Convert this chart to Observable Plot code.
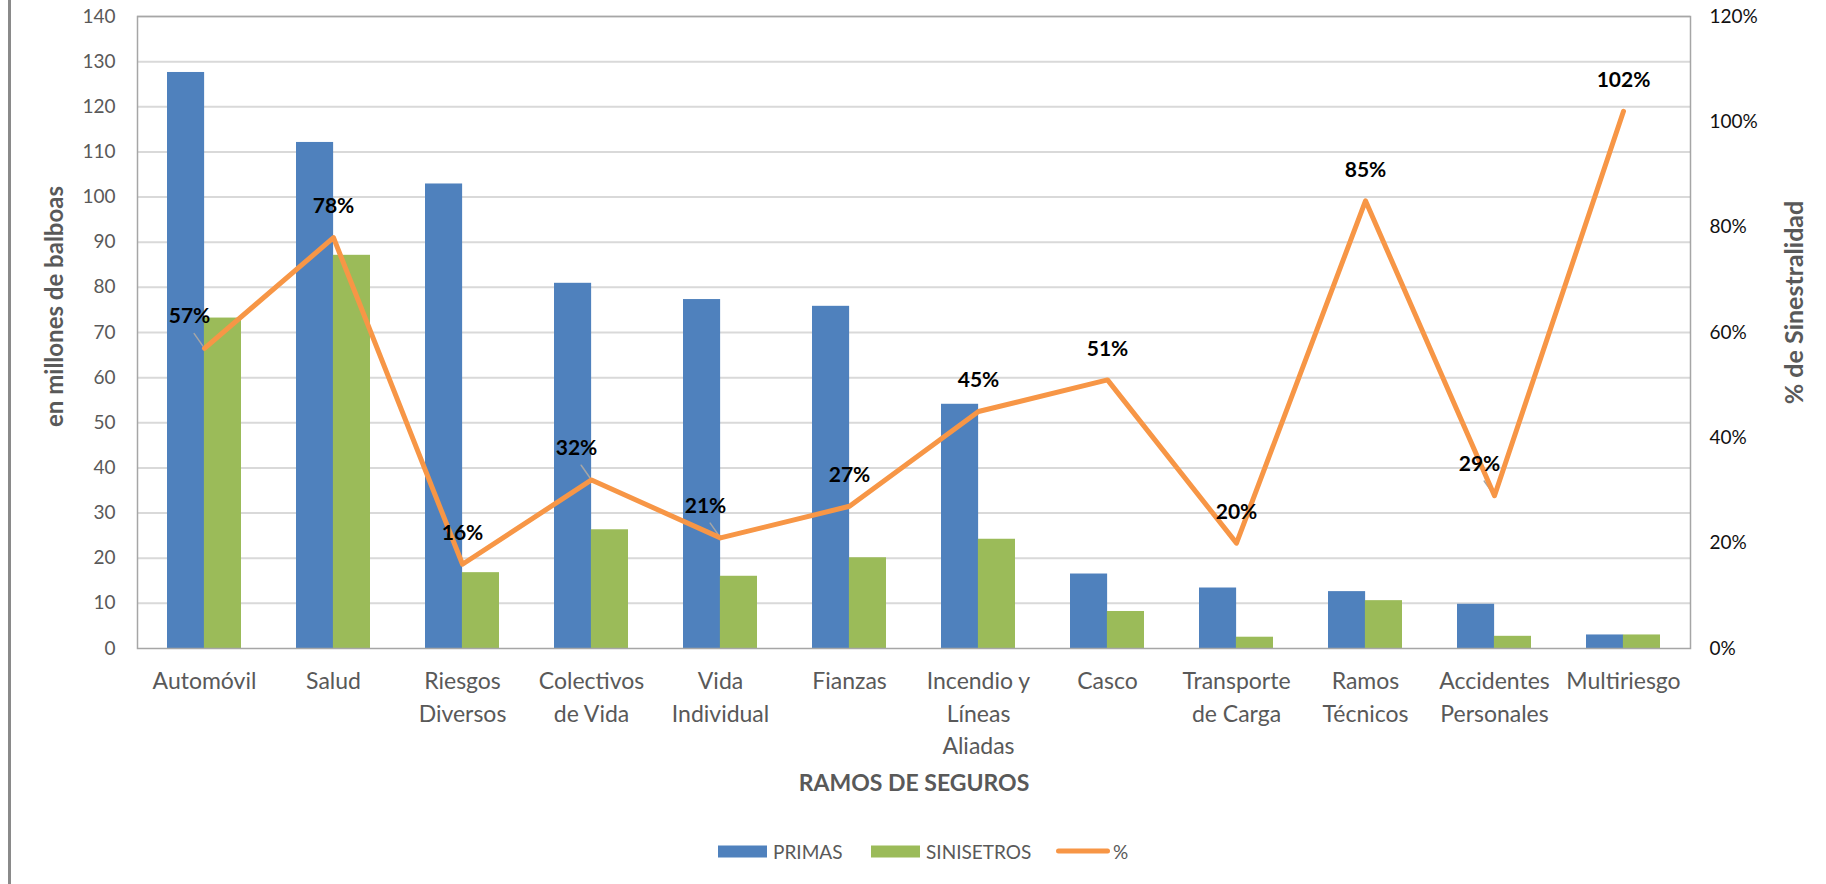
<!DOCTYPE html>
<html>
<head>
<meta charset="utf-8">
<script src="https://cdn.jsdelivr.net/npm/d3@7"></script>
<script src="https://cdn.jsdelivr.net/npm/@observablehq/plot@0.6"></script>
<style>
  html, body { margin: 0; padding: 0; background: #fff; }
  #wrap { position: relative; width: 1826px; height: 884px; overflow: hidden; font-family: Lato, "Open Sans", sans-serif; }
  #edge { position: absolute; left: 8px; top: 0; width: 3px; height: 884px; background: #8a8a8a; }
  #legend { position: absolute; left: 0; top: 810px; width: 1826px; height: 74px; }
  .lg { position: absolute; top: 41px; transform: translateY(-50%); display: flex; align-items: center; font-size: 19px; color: #595959; }
  .sw { display: inline-block; width: 49px; height: 12px; margin-right: 6px; }
  .ln { display: inline-block; width: 54px; height: 5px; border-radius: 3px; margin-right: 3px; }
</style>
</head>
<body>
<div id="wrap">
  <div id="chart"></div>
  <div id="edge"></div>
  <div id="legend"></div>
</div>
<script>
// ---- data ----
const categories = ["Automóvil", "Salud", "Riesgos Diversos", "Colectivos de Vida", "Vida Individual", "Fianzas",
  "Incendio y Líneas Aliadas", "Casco", "Transporte de Carga", "Ramos Técnicos", "Accidentes Personales", "Multiriesgo"];
const categoryLabels = ["Automóvil", "Salud", "Riesgos\nDiversos", "Colectivos\nde Vida", "Vida\nIndividual", "Fianzas",
  "Incendio y\nLíneas\nAliadas", "Casco", "Transporte\nde Carga", "Ramos\nTécnicos", "Accidentes\nPersonales", "Multiriesgo"];
const primas = [127.6, 112.1, 102.9, 80.9, 77.3, 75.8, 54.1, 16.5, 13.4, 12.6, 9.8, 3.0];
const siniestros = [73.2, 87.1, 16.8, 26.3, 16.0, 20.1, 24.2, 8.2, 2.5, 10.6, 2.7, 3.0];
const siniestralidad = [57, 78, 16, 32, 21, 27, 45, 51, 20, 85, 29, 102];
const leftTicks = [0, 10, 20, 30, 40, 50, 60, 70, 80, 90, 100, 110, 120, 130, 140];
const rightTicks = [0, 20, 40, 60, 80, 100, 120];
const seriesNames = ["PRIMAS", "SINISETROS", "%"];
const leaderLabels = ["Automóvil", "Colectivos de Vida", "Vida Individual", "Accidentes Personales"];

// ---- layout / style ----
const W = 1826, H = 810;
const mL = 137, mR = 136, mT = 16, mB = H - 648;
const padInner = 0.43;
const step = (W - mL - mR) / categories.length;
const half = step * (1 - padInner) / 2;
const yMax = 140, pMax = 120, k = yMax / pMax;
const colors = {PRIMAS: "#4F81BD", SINISETROS: "#9BBB59", pct: "#F79646"};
const labelOf = new Map(categories.map((c, i) => [c, categoryLabels[i]]));

const rows = categories.map((c, i) => ({cat: c, primas: primas[i], sin: siniestros[i], pct: siniestralidad[i]}));
const leaderRows = rows.filter(d => leaderLabels.includes(d.cat));
const plainRows = rows.filter(d => !leaderLabels.includes(d.cat));

const leaderShape = {draw(ctx, l) { ctx.moveTo(0, -3); ctx.lineTo(0, -l); }};

const chart = Plot.plot({
  width: W, height: H,
  marginLeft: mL, marginRight: mR, marginTop: mT, marginBottom: mB,
  style: {fontFamily: "Lato, 'Open Sans', sans-serif", background: "white", overflow: "visible"},
  x: {type: "band", domain: categories, paddingInner: padInner, paddingOuter: padInner / 2},
  y: {domain: [0, yMax]},
  marks: [
    Plot.gridY(leftTicks.slice(1), {stroke: "#d9d9d9", strokeOpacity: 1, strokeWidth: 2}),
    Plot.barY(rows, {x: "cat", y: "primas", fill: colors.PRIMAS, insetRight: half, insetLeft: 0}),
    Plot.barY(rows, {x: "cat", y: "sin", fill: colors.SINISETROS, insetLeft: half, insetRight: 0}),
    Plot.frame({stroke: "#a6a6a6", strokeWidth: 1.5}),
    Plot.axisY(leftTicks, {anchor: "left", tickSize: 0, tickPadding: 22, fontSize: 19, fill: "#595959", label: null}),
    Plot.axisY(rightTicks.map(p => p * k), {anchor: "right", tickSize: 0, tickPadding: 19, fontSize: 19, fill: "#111",
      tickFormat: d => Math.round(d / k) + "%", label: null}),
    Plot.axisX({tickSize: 0, tickPadding: 18, fontSize: 23, fill: "#595959", lineHeight: 1.4,
      tickFormat: d => labelOf.get(d), label: null}),
    Plot.vector(leaderRows, {x: "cat", y: d => d.pct * k, length: 18, rotate: -35, anchor: "start",
      shape: leaderShape, stroke: "#a6a6a6", strokeWidth: 1.5}),
    Plot.line(rows, {x: "cat", y: d => d.pct * k, stroke: colors.pct, strokeWidth: 5,
      strokeLinecap: "round", strokeLinejoin: "round"}),
    Plot.text(plainRows, {x: "cat", y: d => d.pct * k, text: d => d.pct + "%", dy: -31,
      fontSize: 21, fontWeight: "bold", fill: "#000"}),
    Plot.text(leaderRows, {x: "cat", y: d => d.pct * k, text: d => d.pct + "%", dy: -32, dx: -15,
      fontSize: 21, fontWeight: "bold", fill: "#000"}),
    Plot.text(["en millones de balboas"], {frameAnchor: "left", textAnchor: "middle", dx: -82, dy: -26, rotate: -90,
      fontSize: 24, fontWeight: "bold", fill: "#595959"}),
    Plot.text(["% de Sinestralidad"], {frameAnchor: "right", textAnchor: "middle", dx: 104, dy: -30, rotate: -90,
      fontSize: 25, fontWeight: "bold", fill: "#595959"}),
    Plot.text(["RAMOS DE SEGUROS"], {frameAnchor: "bottom", dy: 142,
      fontSize: 23, fontWeight: "bold", fill: "#595959"})
  ]
});
document.getElementById("chart").appendChild(chart);

// ---- legend ----
const legend = document.getElementById("legend");
const items = [
  {name: seriesNames[0], left: 718, kind: "sw", color: colors.PRIMAS},
  {name: seriesNames[1], left: 871, kind: "sw", color: colors.SINISETROS},
  {name: seriesNames[2], left: 1056, kind: "ln", color: colors.pct}
];
for (const it of items) {
  const el = document.createElement("div");
  el.className = "lg";
  el.style.left = it.left + "px";
  const s = document.createElement("span");
  s.className = it.kind;
  s.style.background = it.color;
  el.appendChild(s);
  el.appendChild(document.createTextNode(it.name));
  legend.appendChild(el);
}
</script>
</body>
</html>
